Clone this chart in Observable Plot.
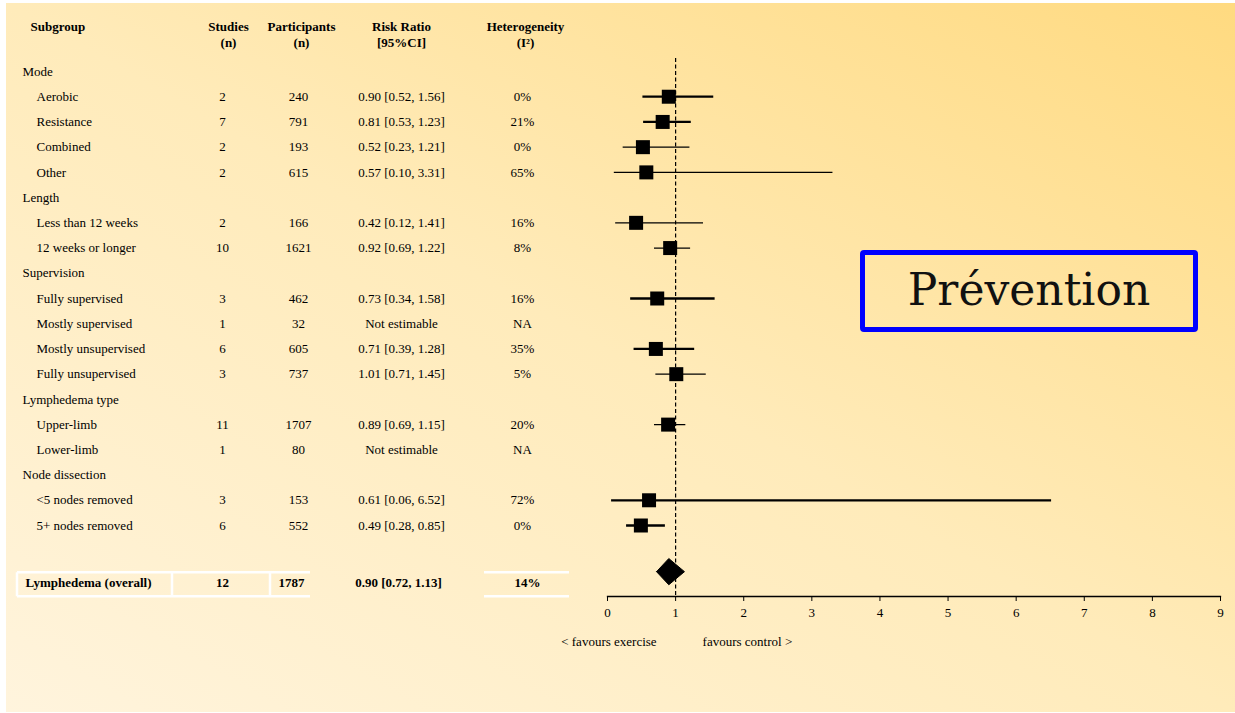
<!DOCTYPE html>
<html><head><meta charset="utf-8">
<script src="https://cdn.jsdelivr.net/npm/d3@7"></script>
<script src="https://cdn.jsdelivr.net/npm/@observablehq/plot@0.6"></script>
<style>
body{margin:0;background:#fff;}
#wrap{position:relative;width:1235px;height:713px;overflow:hidden;background:#fff;font-family:"Liberation Serif",serif;}
#bg{position:absolute;left:6px;top:3px;right:0;bottom:1px;background:linear-gradient(to top right,#FFF4DD 0%,#FFEBBA 50%,#FFDA80 100%);}
#chart{position:absolute;left:0;top:0;}
#tag{position:absolute;left:860px;top:250px;width:338px;height:82px;box-sizing:border-box;border:5px solid #0000FF;border-radius:4px;display:flex;align-items:center;justify-content:center;font-family:"DejaVu Serif",serif;font-size:44px;color:#111;padding-bottom:3px;}
</style></head>
<body><div id="wrap"><div id="bg"></div><div id="chart"></div><div id="tag">Prévention</div></div>
<script>
// ---------- data ----------
const subgroups = ["Mode","Aerobic","Resistance","Combined","Other","Length","Less than 12 weeks","12 weeks or longer","Supervision","Fully supervised","Mostly supervised","Mostly unsupervised","Fully unsupervised","Lymphedema type","Upper-limb","Lower-limb","Node dissection","<5 nodes removed","5+ nodes removed"];
const groupHeaders = ["Mode","Length","Supervision","Lymphedema type","Node dissection"];
const studies = [null,2,7,2,2,null,2,10,null,3,1,6,3,null,11,1,null,3,6];
const participants = [null,240,791,193,615,null,166,1621,null,462,32,605,737,null,1707,80,null,153,552];
const riskRatio = [null,0.90,0.81,0.52,0.57,null,0.42,0.92,null,0.73,null,0.71,1.01,null,0.89,null,null,0.61,0.49];
const ciLower = [null,0.52,0.53,0.23,0.10,null,0.12,0.69,null,0.34,null,0.39,0.71,null,0.69,null,null,0.06,0.28];
const ciUpper = [null,1.56,1.23,1.21,3.31,null,1.41,1.22,null,1.58,null,1.28,1.45,null,1.15,null,null,6.52,0.85];
const heterogeneity = [null,0,21,0,65,null,16,8,null,16,null,35,5,null,20,null,null,72,0];

const overallLabel = "Lymphedema (overall)";
const overallStudies = 12;
const overallParticipants = 1787;
const overallRR = 0.90;
const overallLower = 0.72;
const overallUpper = 1.13;
const overallI2 = 14;

const columnHeaders = [
  {line1:"Subgroup", line2:"", col:"subgroup"},
  {line1:"Studies", line2:"(n)", col:"studies"},
  {line1:"Participants", line2:"(n)", col:"participants"},
  {line1:"Risk Ratio", line2:"[95%CI]", col:"rr"},
  {line1:"Heterogeneity", line2:"(I\u00B2)", col:"i2"}
];
const xTicks = [0,1,2,3,4,5,6,7,8,9];
const favoursLeft = "< favours exercise";
const favoursRight = "favours control >";

// ---------- style / layout ----------
const thickCIRows = ["Aerobic","Resistance","Fully supervised","Mostly unsupervised","<5 nodes removed","5+ nodes removed"];
const ML = 607, MR = 15, MT = 58, MB = 117, W = 1235, H = 713;
const colX = {group:22, item:36, overallLabel:25, studies:222, participants:298, rr:401, i2:522};
const headX = {subgroup:30, studies:228, participants:301, rr:401, i2:525};
const overallRow = 20.27;

const fmt = d3.format(".2f");
const rows = subgroups.map((name,i)=>({
  row:i, name, isGroup: groupHeaders.includes(name),
  studies: studies[i], participants: participants[i],
  rr: riskRatio[i], lo: ciLower[i], hi: ciUpper[i], i2: heterogeneity[i]
}));
const items = rows.filter(d=>!d.isGroup);
const est = items.filter(d=>d.rr!=null);
const rrText = d => d.rr==null ? "Not estimable" : `${fmt(d.rr)} [${fmt(d.lo)}, ${fmt(d.hi)}]`;
const i2Text = d => d.i2==null ? "NA" : d.i2 + "%";

const overall = [{row:overallRow, name:overallLabel, studies:overallStudies, participants:overallParticipants, rr:overallRR, lo:overallLower, hi:overallUpper, i2:overallI2}];
const dRow = overallRow - 0.44;
const diamond = [
  {x:overallLower, y:dRow}, {x:overallRR, y:dRow-0.52}, {x:overallUpper, y:dRow},
  {x:overallRR, y:dRow+0.52}, {x:overallLower, y:dRow}
];

function overallBorders(index, scales, values, dims, context){
  const yc = scales.y(overallRow);
  const t = yc - 10, b = yc + 14;
  const g = d3.create("svg:g").attr("stroke","#fff").attr("stroke-width",2.5).attr("fill","none");
  const segs = [
    [17,t,310,t],[17,b,310,b],[17,t,17,b],[172,t,172,b],[270,t,270,b],
    [484,t,569,t],[484,b,569,b]
  ];
  for (const [x1,y1,x2,y2] of segs) g.append("line").attr("x1",x1).attr("y1",y1).attr("x2",x2).attr("y2",y2);
  return g.node();
}

const txt = {fill:"black", stroke:null, lineAnchor:"middle"};
const plot = Plot.plot({
  width: W, height: H,
  marginLeft: ML, marginRight: MR, marginTop: MT, marginBottom: MB,
  x: {domain:[0,9], axis:null},
  y: {domain:[0,18], range:[71,525], axis:null},
  style: {background:"transparent", fontFamily:"'Liberation Serif', serif", fontSize:"13px", color:"black", overflow:"visible"},
  marks: [
    overallBorders,
    Plot.ruleX([1], {stroke:"black", strokeWidth:1.2, strokeDasharray:"4,2.5"}),
    Plot.frame({anchor:"bottom", stroke:"black", strokeWidth:1.3}),
    Plot.axisX({ticks:xTicks, tickSize:5, tickPadding:6, tickFormat:d=>String(d), fontSize:13}),
    // CI lines
    Plot.ruleY(est, {filter:d=>thickCIRows.includes(d.name), y:"row", x1:"lo", x2:"hi", stroke:"black", strokeWidth:2.3}),
    Plot.ruleY(est, {filter:d=>!thickCIRows.includes(d.name), y:"row", x1:"lo", x2:"hi", stroke:"black", strokeWidth:1.3}),
    Plot.dot(est, {x:"rr", y:"row", symbol:"square", r:7.9, fill:"black", stroke:null}),
    Plot.line(diamond, {x:"x", y:"y", fill:"black", stroke:"black", strokeWidth:1}),
    // headers
    ...columnHeaders.map(h => Plot.text([h], {text:"line1", frameAnchor:"top-left", dx: headX[h.col]-ML, dy: 26-MT, textAnchor: h.col==="subgroup" ? "start" : "middle", fontWeight:"bold", ...txt})),
    ...columnHeaders.map(h => Plot.text([h], {text:"line2", frameAnchor:"top-left", dx: headX[h.col]-ML, dy: 42-MT, textAnchor:"middle", fontWeight:"bold", ...txt})),
    // table rows
    Plot.text(rows, {filter:d=>d.isGroup, y:"row", text:"name", frameAnchor:"left", dx: colX.group-ML, textAnchor:"start", ...txt}),
    Plot.text(items, {y:"row", text:"name", frameAnchor:"left", dx: colX.item-ML, textAnchor:"start", ...txt}),
    Plot.text(items, {y:"row", text:d=>String(d.studies), frameAnchor:"left", dx: colX.studies-ML, textAnchor:"middle", ...txt}),
    Plot.text(items, {y:"row", text:d=>String(d.participants), frameAnchor:"left", dx: colX.participants-ML, textAnchor:"middle", ...txt}),
    Plot.text(items, {y:"row", text:rrText, frameAnchor:"left", dx: colX.rr-ML, textAnchor:"middle", ...txt}),
    Plot.text(items, {y:"row", text:i2Text, frameAnchor:"left", dx: colX.i2-ML, textAnchor:"middle", ...txt}),
    // overall row
    Plot.text(overall, {y:"row", text:"name", frameAnchor:"left", dx: colX.overallLabel-ML, textAnchor:"start", fontWeight:"bold", ...txt}),
    Plot.text(overall, {y:"row", text:d=>String(d.studies), frameAnchor:"left", dx: colX.studies-ML, textAnchor:"middle", fontWeight:"bold", ...txt}),
    Plot.text(overall, {y:"row", text:d=>String(d.participants), frameAnchor:"left", dx: 291-ML, textAnchor:"middle", fontWeight:"bold", ...txt}),
    Plot.text(overall, {y:"row", text:rrText, frameAnchor:"left", dx: 398-ML, textAnchor:"middle", fontWeight:"bold", ...txt}),
    Plot.text(overall, {y:"row", text:i2Text, frameAnchor:"left", dx: 527-ML, textAnchor:"middle", fontWeight:"bold", ...txt}),
    // favours labels
    Plot.text([favoursLeft], {x:()=>1, text:d=>d, frameAnchor:"bottom", dy:45, dx:-19, textAnchor:"end", ...txt}),
    Plot.text([favoursRight], {x:()=>1, text:d=>d, frameAnchor:"bottom", dy:45, dx:27, textAnchor:"start", ...txt})
  ]
});
document.getElementById("chart").appendChild(plot);
</script></body></html>
